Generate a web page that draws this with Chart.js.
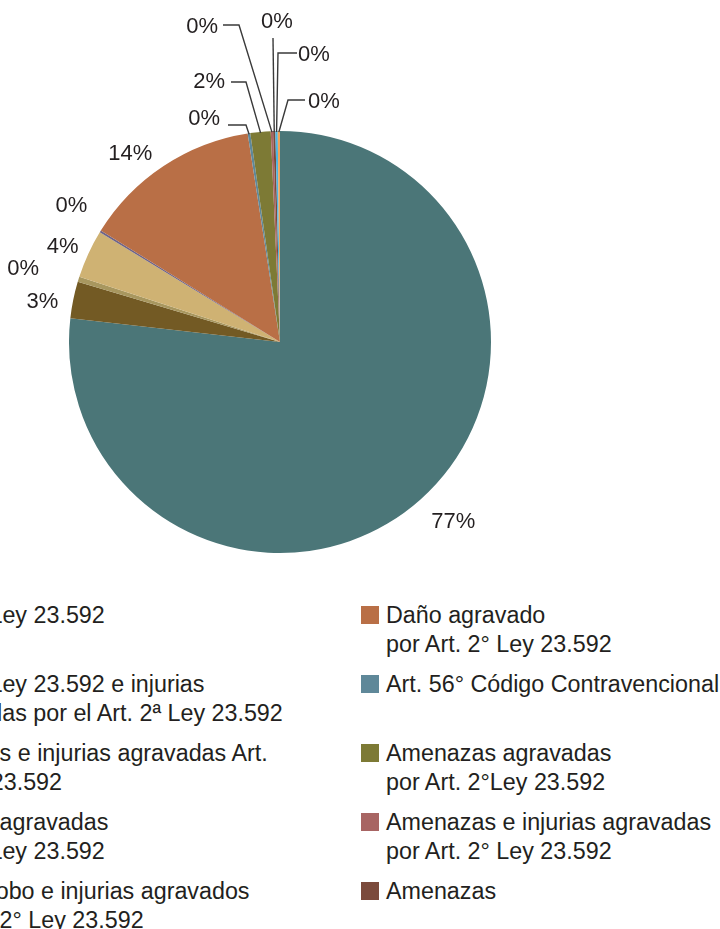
<!DOCTYPE html>
<html lang="es">
<head>
<meta charset="utf-8">
<title>Distribución por tipo de causa</title>
<script src="https://cdn.jsdelivr.net/npm/chart.js@4.4.1/dist/chart.umd.min.js"></script>
<style>
    html, body { margin: 0; padding: 0; background: #fff; }
    body { width: 720px; height: 929px; overflow: hidden; position: relative;
           font-family: 'Liberation Sans', Arial, sans-serif; color: #231f20; }
    #pie { position: absolute; left: -120px; top: 0; }
    #legend { position: absolute; left: -107px; top: 601px;
              display: grid; grid-template-columns: 468px 380px;
              grid-template-rows: repeat(6, auto); grid-auto-flow: column;
              row-gap: 11px; font-size: 23.3px; line-height: 29px; }
    .item { display: flex; align-items: flex-start; white-space: nowrap; }
    .sw { width: 18px; height: 18px; margin: 5px 7px 0 0; flex: none; }
</style>
</head>
<body>
<canvas id="pie" width="800" height="560"></canvas>
<div id="legend"></div>

<script>
(function () {
    'use strict';

    // ── Data (pie order, clockwise from 12 o'clock) ───────────────────────────
    const categories = [
        'Art. 3° Ley 23.592',
        'Art. 3° Ley 23.592 e injurias\nagravadas por el Art. 2ª Ley 23.592',
        'Lesiones e injurias agravadas Art.\n2° Ley 23.592',
        'Injurias agravadas\nArt. 2° Ley 23.592',
        'Hurto, robo e injurias agravados\npor Art. 2° Ley 23.592',
        'Daño agravado\npor Art. 2° Ley 23.592',
        'Art. 56° Código Contravencional',
        'Amenazas agravadas\npor Art. 2°Ley 23.592',
        'Amenazas e injurias agravadas\npor Art. 2° Ley 23.592',
        'Amenazas',
        'Lesiones agravadas\npor Art. 2° Ley 23.592',
        'Hostigamiento agravado\npor Art. 2° Ley 23.592'
    ];
    const shares = [76.8, 2.8, 0.4, 3.7, 0.15, 13.7, 0.2, 1.55, 0.18, 0.17, 0.18, 0.17];
    const colors = [
        '#4b7678', '#735a24', '#a8975f', '#cfb273', '#6e6488', '#b96f46',
        '#5f8899', '#7d7a35', '#a86563', '#7b4a3b', '#4cb5e0', '#f0a35a'
    ];
    // legend: left column then right column
    const legendOrder = [0, 1, 2, 3, 4, 10, 5, 6, 7, 8, 9, 11];

    // ── Theme ────────────────────────────────────────────────────────────────
    const TEXT = '#231f20';
    const LINE = '#3a3a3a';
    const FONT = '22px "Liberation Sans", Arial, sans-serif';

    // label placement: radial (angle nudge in deg, distance) or leader line
    // leader points / text anchor are offsets from the pie centre
    const labelPlace = [
        { nudge: -2.1, dist: 250 },
        { nudge: -2.0, dist: 241 },
        { nudge: -1.4, dist: 267 },
        { nudge: -1.1, dist: 237 },
        { nudge:  1.5, dist: 249 },
        { nudge: -5.1, dist: 240 },
        { path: [[-34, -217], [-52, -217]], text: [-60, -223], align: 'right' },
        { path: [[-34, -260], [-49, -260]], text: [-55, -260], align: 'right' },
        { path: [[-41, -317], [-57, -317]], text: [-62, -315], align: 'right' },
        { path: [[-7, -304]],                text: [-3, -320],  align: 'center' },
        { path: [[-2, -289], [17, -289]],    text: [18, -287],  align: 'left' },
        { path: [[8, -242], [25, -242]],     text: [28, -240],  align: 'left' }
    ];

    const total = shares.reduce((a, b) => a + b, 0);

    const pieLabels = {
        id: 'pieLabels',
        afterDatasetsDraw(chart) {
            const ctx = chart.ctx;
            const arcs = chart.getDatasetMeta(0).data;
            ctx.save();
            ctx.font = FONT;
            ctx.fillStyle = TEXT;
            ctx.strokeStyle = LINE;
            ctx.lineWidth = 1.4;
            ctx.textBaseline = 'middle';

            arcs.forEach((arc, i) => {
                const p = arc.getProps(['x', 'y', 'startAngle', 'endAngle', 'outerRadius'], true);
                const mid = (p.startAngle + p.endAngle) / 2;
                const txt = Math.round(shares[i] / total * 100) + '%';
                const lp = labelPlace[i];

                if (!lp.path) {
                    const a = mid + lp.nudge * Math.PI / 180;
                    ctx.textAlign = 'center';
                    ctx.fillText(txt, p.x + Math.cos(a) * lp.dist, p.y + Math.sin(a) * lp.dist);
                    return;
                }

                ctx.beginPath();
                ctx.moveTo(p.x + Math.cos(mid) * (p.outerRadius - 1), p.y + Math.sin(mid) * (p.outerRadius - 1));
                lp.path.forEach(pt => ctx.lineTo(p.x + pt[0], p.y + pt[1]));
                ctx.stroke();

                ctx.textAlign = lp.align;
                ctx.fillText(txt, p.x + lp.text[0], p.y + lp.text[1]);
            });
            ctx.restore();
        }
    };

    new Chart(document.getElementById('pie'), {
        type: 'pie',
        data: {
            labels: categories,
            datasets: [{
                data: shares,
                backgroundColor: colors,
                borderWidth: 0,
                hoverOffset: 0,
                offset: 0
            }]
        },
        options: {
            responsive: false,
            animation: false,
            layout: { padding: { top: 131, bottom: 7, left: 0, right: 0 } },
            plugins: {
                legend: { display: false },
                tooltip: { enabled: false }
            }
        },
        plugins: [pieLabels]
    });

    // ── HTML legend (two columns) ────────────────────────────────────────────
    const legend = document.getElementById('legend');
    legendOrder.forEach(i => {
        const item = document.createElement('div');
        item.className = 'item';
        const sw = document.createElement('span');
        sw.className = 'sw';
        sw.style.background = colors[i];
        const label = document.createElement('span');
        categories[i].split('\n').forEach((line, k) => {
            if (k) label.appendChild(document.createElement('br'));
            label.appendChild(document.createTextNode(line));
        });
        item.appendChild(sw);
        item.appendChild(label);
        legend.appendChild(item);
    });
})();
</script>
</body>
</html>
